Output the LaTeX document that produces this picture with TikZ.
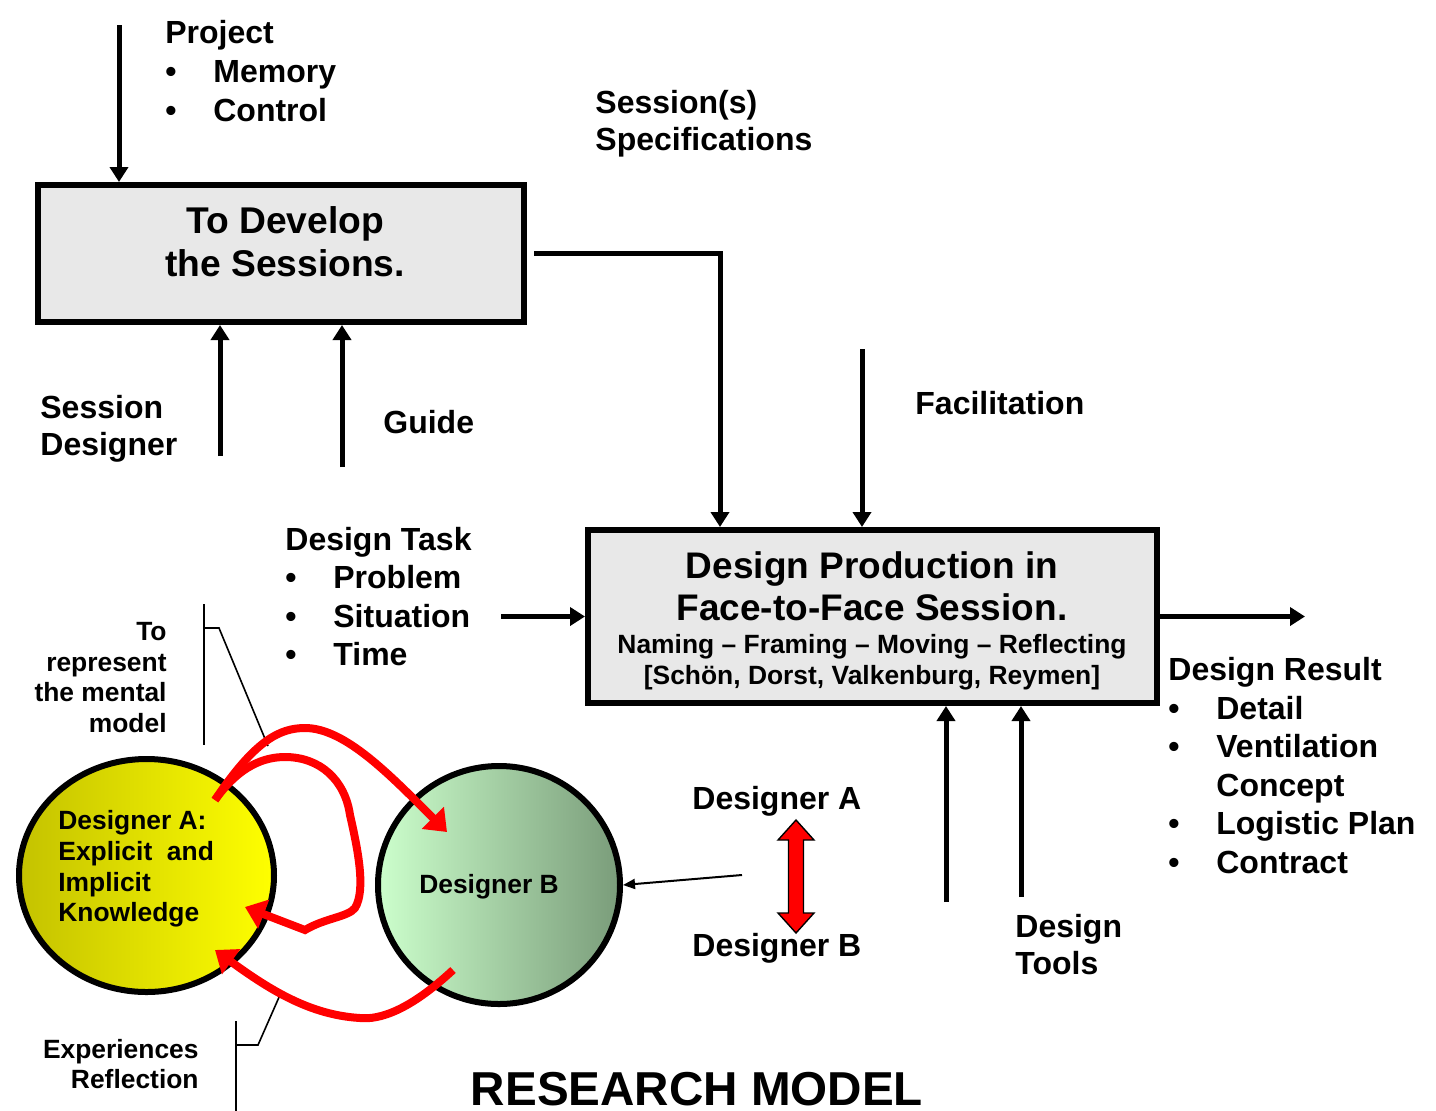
\documentclass[tikz,border=0pt]{standalone}
\usepackage{fontspec}
\setmainfont{Liberation Sans}
\usetikzlibrary{arrows.meta,shapes.geometric}
\definecolor{boxgray}{RGB}{232,232,232}
\definecolor{oliveA}{RGB}{196,194,0}
\definecolor{mintB}{RGB}{204,255,204}
\definecolor{sageB}{RGB}{122,156,122}
\newcommand{\bul}{\makebox[24pt][l]{\textbullet}}
\begin{document}
\begin{tikzpicture}[x=0.5pt,y=-0.5pt,
  procbox/.style={draw, line width=3pt, fill=boxgray},
  lbl/.style={font=\fontsize{16}{19.3}\selectfont\bfseries, inner sep=0pt, align=left},
  small/.style={font=\fontsize{13.2}{15.3}\selectfont\bfseries, inner sep=0pt},
  flow/.style={line width=2.5pt, -{Triangle[length=7.5pt,width=9pt]}},
  redflow/.style={line width=4pt, red, -{Triangle[length=10pt,width=15pt]}},
  callout/.style={line width=0.8pt}]
        \useasboundingbox (0,0) rectangle (1436,1110);

        % the two process boxes
        \node[procbox, minimum width=243pt, minimum height=68.5pt] (dev) at (281,253.5) {};
        \node[lbl, font=\fontsize{18.6}{21.5}\selectfont\bfseries, align=center] (devtxt) at (285,241.5) {To Develop\\the Sessions.};
        \node[procbox, minimum width=284.5pt, minimum height=86.5pt] (prod) at (872.5,616.5) {};
        \node[lbl, font=\fontsize{18.5}{21}\selectfont\bfseries, align=center] (prodtxt) at (872,586) {Design Production in\\Face-to-Face Session.};
        \node[small, align=center] (prodref) at (872,662.5) {Naming – Framing – Moving – Reflecting\\{}[Schön, Dorst, Valkenburg, Reymen]};

        % labels
        \node[lbl, anchor=west] (proj) at (165,71) {Project\\\bul Memory\\\bul Control};
        \node[lbl, font=\fontsize{16}{18.5}\selectfont\bfseries, anchor=west] (specs) at (595,123.5) {Session(s)\\Specifications};
        \node[lbl, font=\fontsize{16}{18.5}\selectfont\bfseries, anchor=west] (sdes) at (40,428.5) {Session\\Designer};
        \node[lbl, anchor=west] (guide) at (383,422) {Guide};
        \node[lbl, anchor=west] (facil) at (915,403) {Facilitation};
        \node[lbl, anchor=west] (task) at (285,596.5) {Design Task\\\bul Problem\\\bul Situation\\\bul Time};
        \node[lbl, anchor=west] (result) at (1168,765.5) {Design Result\\\bul Detail\\\bul Ventilation\\\hspace*{24pt}Concept\\\bul Logistic Plan\\\bul Contract};
        \node[lbl, font=\fontsize{16}{18.5}\selectfont\bfseries, anchor=west] (tools) at (1015,945) {Design\\Tools};
        \node[lbl, anchor=west] (dA) at (692,801) {Designer A};
        \node[lbl, anchor=west] (dB) at (692,948) {Designer B};
        \node[small, align=right, anchor=east] (mental) at (167,677.5) {To\\represent\\the mental\\model};
        \node[small, align=right, anchor=east] (exper) at (199,1064) {Experiences\\Reflection};

        % free ends of the arrows
        \coordinate (projin) at (119,25);
        \coordinate (sdin) at (220,456);
        \coordinate (gdin) at (342,467);
        \coordinate (specturn) at (720,253.5);
        \coordinate (facin) at (862,349);
        \coordinate (taskin) at (501,616.5);
        \coordinate (resout) at (1305,616.5);
        \coordinate (tool1) at (946,902);
        \coordinate (tool2) at (1021,897);
        \coordinate (obs) at (742,875);

        \draw[flow] (projin) -- (projin |- dev.north);
        \draw[flow] (sdin) -- (sdin |- dev.south);
        \draw[flow] (gdin) -- (gdin |- dev.south);
        \draw[flow] ([xshift=3.5pt]dev.east) -- (specturn) -- (specturn |- prod.north);
        \draw[flow] (facin) -- (facin |- prod.north);
        \draw[flow] (taskin) -- (prod.west);
        \draw[flow] (prod.east) -- (resout);
        \draw[flow] (tool1) -- (tool1 |- prod.south);
        \draw[flow] (tool2) -- (tool2 |- prod.south);

        % the designers
        \node[ellipse, draw, line width=3pt, left color=oliveA, right color=yellow, minimum width=127.5pt, minimum height=116.5pt] (desA) at (146.5,875.5) {};
        \node[ellipse, draw, line width=3pt, left color=mintB, right color=sageB, minimum width=121pt, minimum height=119pt] (desB) at (499,885) {};
        \node[small, align=left, anchor=west] (desAtxt) at (58,869) {Designer A:\\Explicit~ and\\Implicit\\Knowledge};
        \node[small] (desBtxt) at (489,887) {Designer B};
        \draw[line width=1pt, -{Triangle[length=6pt,width=5pt]}] (obs) -- (desB.east);

        % exchange between A and B
        \draw[fill=red, line width=0.7pt] (796,820) -- (814,840) -- (803.5,840) -- (803.5,913) -- (814,913) -- (796,933) -- (778,913) -- (788.5,913) -- (788.5,840) -- (778,840) -- cycle;

        % callouts
        \draw[callout] (204,604) -- (204,745);
        \draw[callout] (204,628) -- (219,628) -- (268,746);
        \draw[callout] (236,1021) -- (236,1112);
        \draw[callout] (236,1045) -- (258,1045) -- (280,995);

        % red loops
        \draw[redflow] (215,800) .. controls (255,740) and (280,728) .. (305,728) .. controls (345,728) and (390,775) .. (447,832);
        \draw[redflow] (215,800) .. controls (240,765) and (265,757) .. (285,757) .. controls (320,757) and (345,780) .. (350,815) .. controls (358,850) and (366,890) .. (355,908) .. controls (348,917) and (325,918) .. (305,930) -- (245,907);
        \draw[redflow] (453,970) .. controls (410,1010) and (380,1020) .. (360,1018) .. controls (310,1015) and (270,990) .. (215,950);

        \node[font=\fontsize{23.8}{28}\selectfont\bfseries, anchor=base, inner sep=0pt] (title) at (697,1105) {RESEARCH MODEL};
\end{tikzpicture}
\end{document}
